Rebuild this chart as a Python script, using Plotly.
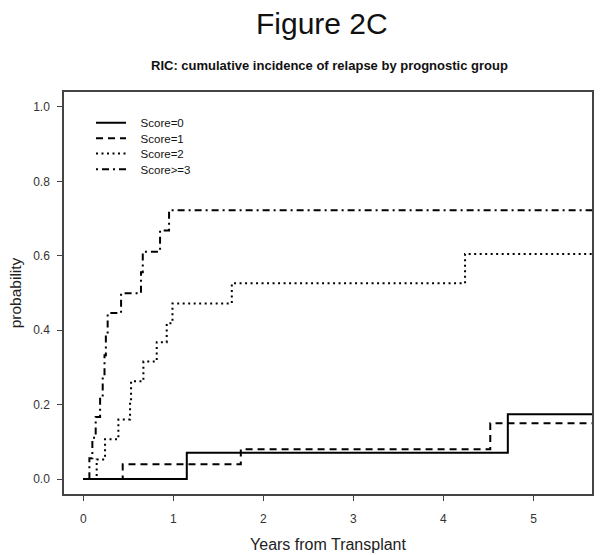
import plotly.graph_objects as go

# ---- data ----
t_score0 = [0.0, 1.149, 4.715, 5.70]
p_score0 = [0.0, 0.071, 0.174, 0.174]

t_score1 = [0.0, 0.437, 1.749, 4.52, 5.70]
p_score1 = [0.0, 0.040, 0.080, 0.150, 0.150]

t_score2 = [0.0, 0.148, 0.241, 0.389, 0.519, 0.53, 0.667, 0.815, 0.926, 0.99, 1.649, 4.24, 5.70]
p_score2 = [0.0, 0.053, 0.107, 0.160, 0.211, 0.263, 0.316, 0.368, 0.419, 0.472, 0.526, 0.605, 0.605]

t_score3 = [0.0, 0.067, 0.100, 0.137, 0.186, 0.215, 0.235, 0.250, 0.270, 0.419, 0.640, 0.660, 0.852, 0.952, 5.70]
p_score3 = [0.0, 0.056, 0.111, 0.167, 0.222, 0.278, 0.333, 0.389, 0.446, 0.499, 0.556, 0.611, 0.668, 0.722, 0.722]

series_names = ["Score=0", "Score=1", "Score=2", "Score>=3"]
x_ticks = [0, 1, 2, 3, 4, 5]
y_ticks = [0.0, 0.2, 0.4, 0.6, 0.8, 1.0]
y_tick_labels = ["0.0", "0.2", "0.4", "0.6", "0.8", "1.0"]

title_main = "Figure 2C"
title_sub = "RIC: cumulative incidence of relapse by prognostic group"
x_title = "Years from Transplant"
y_title = "probability"

# ---- figure ----
FONT = "Liberation Sans, Arial, sans-serif"
W, H = 601, 555
ML, MR, MT, MB = 64, 9, 92, 61
pw, ph = W - ML - MR, H - MT - MB

def px_x(v):
    return (v - ML) / pw

def px_y(v):
    return (H - MB - v) / ph

dashes = ["solid", "7px,5px", "2px,3.5px", "2px,4px,7px,4px"]
xs = [t_score0, t_score1, t_score2, t_score3]
ys = [p_score0, p_score1, p_score2, p_score3]
legend_ids = ["legend", "legend2", "legend3", "legend4"]
legend_rows = [122.7, 138.3, 153.6, 169.3]   # pixel centre of each legend row

fig = go.Figure()
for name, x, y, d, lg in zip(series_names, xs, ys, dashes, legend_ids):
    fig.add_trace(go.Scatter(
        x=x, y=y, name="\u00a0\u00a0\u00a0" + name, mode="lines",
        line=dict(color="black", width=2, dash=d, shape="hv"),
        legend=lg,
    ))

layout_legends = {}
for lg, row in zip(legend_ids, legend_rows):
    layout_legends[lg] = dict(
        x=px_x(91), y=px_y(row), xanchor="left", yanchor="middle",
        bgcolor="rgba(0,0,0,0)", borderwidth=0,
        font=dict(size=11.5, color="#111", family=FONT),
    )

fig.update_layout(
    width=W, height=H,
    paper_bgcolor="white", plot_bgcolor="white",
    margin=dict(l=ML, r=MR, t=MT, b=MB, autoexpand=False),
    font=dict(family=FONT, color="#222"),
    showlegend=True,
    annotations=[
        dict(text=title_main, x=px_x(322), y=px_y(23), xref="paper", yref="paper",
             xanchor="center", yanchor="middle",
             showarrow=False, font=dict(size=30, color="#111", family=FONT)),
        dict(text="<b>" + title_sub + "</b>", x=px_x(329), y=px_y(66),
             xref="paper", yref="paper", xanchor="center", yanchor="middle",
             showarrow=False, font=dict(size=13, color="#111", family=FONT)),
    ],
    **layout_legends,
)

fig.update_xaxes(
    range=[-0.215, 5.65], tickvals=x_ticks, ticks="outside", ticklen=5,
    tickcolor="#444", showline=True, linecolor="#444", linewidth=1.5, mirror=True,
    showgrid=False, zeroline=False, ticklabelstandoff=8, automargin=False,
    tickfont=dict(size=12, color="#333"),
    title=dict(text=x_title, font=dict(size=16, color="#222"), standoff=14),
)
fig.update_yaxes(
    range=[-0.04, 1.04], tickvals=y_ticks, ticktext=y_tick_labels, ticks="outside",
    ticklen=5, tickcolor="#444", showline=True, linecolor="#444", linewidth=1.5,
    mirror=True, showgrid=False, zeroline=False, ticklabelstandoff=5, automargin=False,
    tickfont=dict(size=12, color="#333"),
    title=dict(text=y_title, font=dict(size=15.5, color="#222"), standoff=8),
)

fig.write_html("out.html", config={"displayModeBar": False})

# remove the browser's default page margin so the figure sits at (0, 0)
with open("out.html", "r", encoding="utf-8") as f:
    html = f.read()
html = html.replace("<head>", "<head><style>html,body{margin:0;padding:0;}</style>", 1)
with open("out.html", "w", encoding="utf-8") as f:
    f.write(html)
